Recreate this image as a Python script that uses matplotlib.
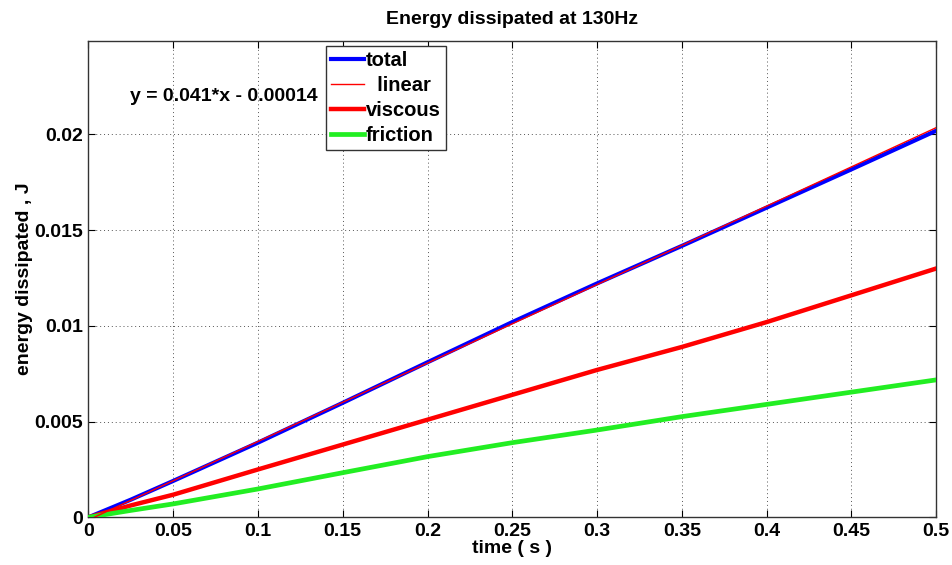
import matplotlib
matplotlib.use("Agg")
import matplotlib.pyplot as plt
import numpy as np

plt.rcParams['font.family'] = ['Liberation Sans', 'DejaVu Sans']
plt.rcParams['font.weight'] = 'bold'

# time samples (s)
time_s = [0.0, 0.025, 0.05, 0.1, 0.15, 0.2, 0.25, 0.3, 0.35, 0.4, 0.45, 0.5]
# dissipated energy (J)
total = [0.0, 0.00092, 0.0019, 0.0039, 0.00598, 0.0081, 0.0102, 0.01222,
         0.01418, 0.01618, 0.01818, 0.0202]
viscous = [0.0, 0.00062, 0.00118, 0.0025, 0.0038, 0.0051, 0.0064, 0.0077,
           0.0089, 0.0102, 0.0116, 0.0130]
friction = [0.0, 0.00036, 0.0007, 0.00148, 0.00233, 0.00317, 0.0039, 0.00456,
            0.00526, 0.0059, 0.00654, 0.00718]

# linear fit of total energy: y = slope*x + intercept
fit_slope = 0.041
fit_intercept = -0.00014

x_ticks = [0, 0.05, 0.1, 0.15, 0.2, 0.25, 0.3, 0.35, 0.4, 0.45, 0.5]
x_tick_labels = ['0', '0.05', '0.1', '0.15', '0.2', '0.25', '0.3', '0.35', '0.4', '0.45', '0.5']
y_ticks = [0, 0.005, 0.01, 0.015, 0.02]
y_tick_labels = ['0', '0.005', '0.01', '0.015', '0.02']

fig = plt.figure(figsize=(9.52, 5.65), dpi=100)
ax = fig.add_axes([0.0928, 0.0844, 0.8907, 0.8436])

t = np.array(time_s)
fit_x = np.array([time_s[0], time_s[-1]])
fit_y = fit_slope * fit_x + fit_intercept

ax.plot(t, total, color='#0000ff', lw=3.0, label='total', zorder=3)
ax.plot(fit_x, fit_y, color='#ff0000', lw=1.0, label='  linear', zorder=4)
ax.plot(t, viscous, color='#ff0000', lw=3.2, label='viscous', zorder=3)
ax.plot(t, friction, color='#22ee22', lw=3.4, label='friction', zorder=3)

ax.set_xlim(0, 0.5)
ax.set_ylim(0, 0.0249)
ax.set_xticks(x_ticks)
ax.set_xticklabels(x_tick_labels)
ax.set_yticks(y_ticks)
ax.set_yticklabels(y_tick_labels)
ax.tick_params(direction='in', length=5, width=0.8, labelsize=14,
               top=True, right=True, pad=4)
for lab in ax.get_xticklabels() + ax.get_yticklabels():
    lab.set_fontweight('bold')

ax.grid(True, linestyle=(0, (1, 3)), color='#555555', linewidth=0.7)
for sp in ax.spines.values():
    sp.set_color('#333333')
    sp.set_linewidth(1.0)

ax.set_title('Energy dissipated at 130Hz', fontsize=14, fontweight='bold', pad=12)
ax.set_xlabel('time ( s )', fontsize=14, fontweight='bold', labelpad=0)
ax.set_ylabel('energy dissipated , J', fontsize=14, fontweight='bold', labelpad=1)

ax.text(0.0246, 0.0220, 'y = %.3f*x - %.5f' % (fit_slope, -fit_intercept),
        fontsize=14, fontweight='bold', ha='left', va='center')

leg = ax.legend(loc='upper left', bbox_to_anchor=(325.7 / 952, 1 - 45.7 / 565),
                bbox_transform=fig.transFigure, fontsize=14.5, frameon=True,
                fancybox=False, framealpha=1, edgecolor='#333333',
                handlelength=1.65, handletextpad=0.1, borderpad=0.25,
                labelspacing=0.3, borderaxespad=0)
leg.get_frame().set_linewidth(1.0)
for txt in leg.get_texts():
    txt.set_fontweight('bold')

fig.savefig('out.png', dpi=100)
